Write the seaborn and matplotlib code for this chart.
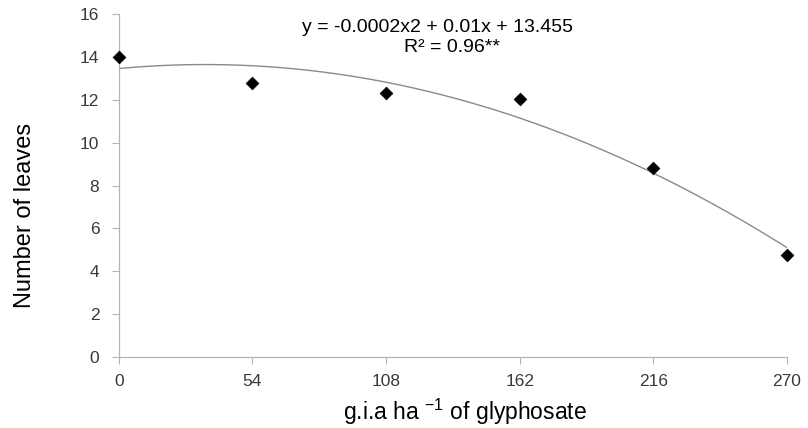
import numpy as np
import pandas as pd
import matplotlib
matplotlib.use("Agg")
import matplotlib.pyplot as plt
import seaborn as sns

# Glyphosate doses (g a.i. ha-1) and mean number of leaves
doses = [0, 54, 108, 162, 216, 270]
leaves = [14.0, 12.8, 12.3, 12.05, 8.8, 4.75]
x_ticks = [0, 54, 108, 162, 216, 270]
y_ticks = [0, 2, 4, 6, 8, 10, 12, 14, 16]
equation_text = "y = -0.0002x2 + 0.01x + 13.455"
r2_text = "R\u00b2 = 0.96**"

sns.set_style("ticks")
plt.rcParams["font.family"] = ["Liberation Sans", "DejaVu Sans"]
plt.rcParams["mathtext.default"] = "regular"

df = pd.DataFrame({"dose": doses, "leaves": leaves})

# quadratic regression through the treatment means
coef = np.polyfit(df["dose"], df["leaves"], 2)
xs = np.linspace(min(doses), max(doses), 200)
fit = pd.DataFrame({"dose": xs, "leaves": np.polyval(coef, xs)})

fig = plt.figure(figsize=(8.08, 4.28), dpi=100)
ax = fig.add_axes([0.147, 0.166, 0.827, 0.801])

sns.lineplot(data=fit, x="dose", y="leaves", ax=ax, color="#8a8a8a", linewidth=1.0)
sns.scatterplot(data=df, x="dose", y="leaves", ax=ax, marker="D", s=42,
                color="black", edgecolor="black", zorder=3, clip_on=False)

ax.set_xlim(0, 270)
ax.set_ylim(0, 16)
ax.set_xticks(x_ticks)
ax.set_yticks(y_ticks)
ax.tick_params(axis="both", colors="#b5b5b5", labelcolor="#3a3a3a",
               labelsize=12.5, width=0.8)
ax.tick_params(axis="y", length=5, pad=9)
ax.tick_params(axis="x", length=5, pad=7)

for side in ("top", "right"):
    ax.spines[side].set_visible(False)
for side in ("left", "bottom"):
    ax.spines[side].set_color("#b5b5b5")
    ax.spines[side].set_linewidth(0.9)

ax.set_xlabel("g.i.a ha $^{-1}$ of glyphosate", fontsize=16.5, color="black")
ax.set_ylabel("Number of leaves", fontsize=17, color="black")
ax.xaxis.set_label_coords(0.518, -0.117)
ax.yaxis.set_label_coords(-0.124, 0.414)

ax.text(0.477, 0.962, equation_text, transform=ax.transAxes, ha="center",
        va="center", fontsize=14, color="black")
ax.text(0.499, 0.904, r2_text, transform=ax.transAxes, ha="center",
        va="center", fontsize=14, color="black")

fig.savefig("out.png", dpi=100, facecolor="white")
